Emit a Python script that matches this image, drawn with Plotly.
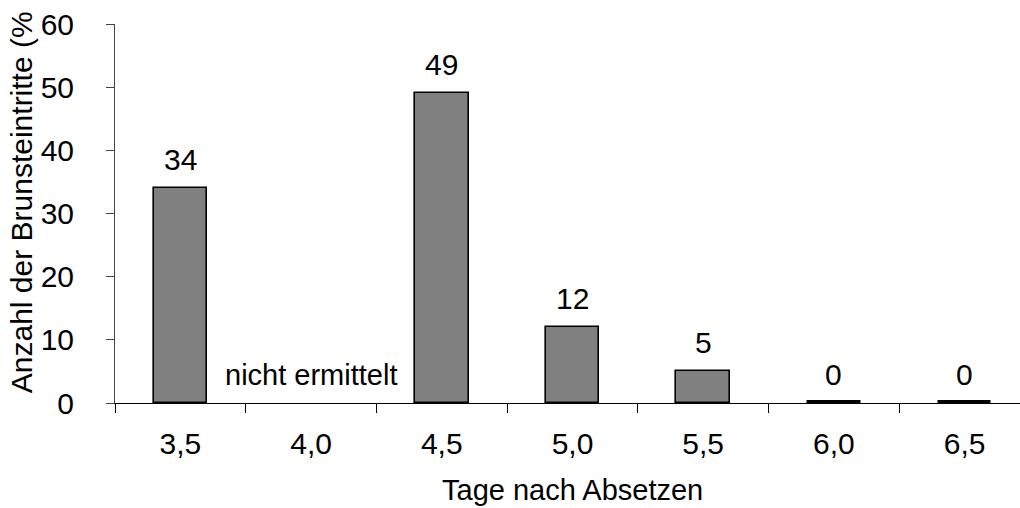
import plotly.graph_objects as go

# Tage nach Absetzen (categories) and share of oestrus onsets in %
tage = ["3,5", "4,0", "4,5", "5,0", "5,5", "6,0", "6,5"]
anteil = [34, None, 49, 12, 5, 0, 0]
hinweis = "nicht ermittelt"

FONT = "Arial, Liberation Sans, sans-serif"
FS = 30

pos = list(range(len(tage)))

# zero-height bars are drawn as a bold stroke on the baseline
line_w = [5 if v == 0 else 1.6 for v in anteil]

fig = go.Figure()
fig.add_trace(go.Bar(
    x=pos,
    y=anteil,
    width=0.41,
    marker=dict(color="#808080", line=dict(color="black", width=line_w)),
    hoverinfo="skip",
))

annotations = []
for p, v in zip(pos, anteil):
    if v is None:
        annotations.append(dict(x=p, y=0, xref="x", yref="y", text=hinweis,
                                showarrow=False, yanchor="bottom", yshift=10,
                                font=dict(family=FONT, size=29, color="black")))
    else:
        annotations.append(dict(x=p, y=v, xref="x", yref="y", text=str(v),
                                showarrow=False, yanchor="bottom", yshift=10,
                                font=dict(family=FONT, size=FS, color="black")))

# axis titles
annotations.append(dict(x=3, y=-0.2296, xref="x", yref="paper",
                        text="Tage nach Absetzen", showarrow=False,
                        xanchor="center", yanchor="middle",
                        font=dict(family=FONT, size=29, color="black")))
annotations.append(dict(x=-0.103, y=0.02, xref="paper", yref="paper",
                        text="Anzahl der Brunsteintritte (%", showarrow=False,
                        textangle=-90, xanchor="center", yanchor="bottom",
                        font=dict(family=FONT, size=FS, color="black")))

fig.update_layout(
    width=1020, height=508,
    margin=dict(l=115, r=0, t=24, b=105),
    paper_bgcolor="white", plot_bgcolor="white",
    showlegend=False,
    bargap=0,
    annotations=annotations,
    font=dict(family=FONT, size=FS, color="black"),
)

fig.update_xaxes(
    range=[-0.5, 6.5 - 10 / 130.7],
    tickmode="array", tickvals=pos, ticktext=tage,
    ticks="", showgrid=False, zeroline=False,
    showline=True, linecolor="black", linewidth=1,
    ticklabelstandoff=14,
    tickfont=dict(family=FONT, size=FS, color="black"),
    minor=dict(tickmode="array", tickvals=[p - 0.5 for p in pos],
               ticks="outside", ticklen=9, tickcolor="black", tickwidth=1,
               showgrid=False),
)
fig.update_yaxes(
    range=[0, 60], tickmode="array", tickvals=[0, 10, 20, 30, 40, 50, 60],
    ticks="outside", ticklen=8, tickcolor="#444", tickwidth=1,
    showgrid=False, zeroline=False,
    showline=True, linecolor="#444", linewidth=1,
    ticklabelstandoff=26,
    tickfont=dict(family=FONT, size=FS, color="black"),
)

fig.write_html("out.html")
